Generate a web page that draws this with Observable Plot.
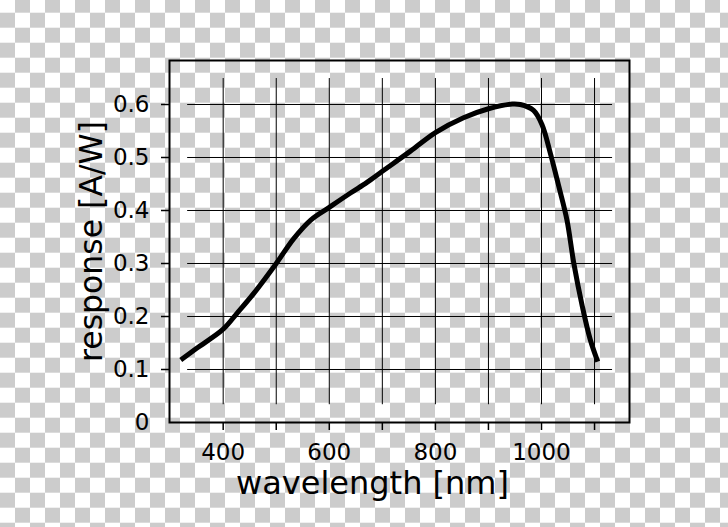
<!DOCTYPE html>
<html><head><meta charset="utf-8">
<script src="https://cdn.jsdelivr.net/npm/d3@7"></script>
<script src="https://cdn.jsdelivr.net/npm/@observablehq/plot@0.6"></script>
<style>
html,body{margin:0;padding:0;width:728px;height:527px;overflow:hidden;}
body{background-color:#fff;background-image:conic-gradient(#cccccc 0 25%, #ffffff 0 50%, #cccccc 0 75%, #ffffff 0);background-size:30px 30px;background-position:0 -2.3px;}
</style></head><body><div id="chart"></div>
<script>
const wavelength = [320, 350, 400, 426, 458, 500, 533, 565, 600, 640, 671, 700, 753, 800, 853, 900, 945, 960, 985, 1001, 1017, 1033, 1048, 1061, 1077, 1092, 1106];
const response = [0.118, 0.140, 0.176, 0.206, 0.244, 0.300, 0.347, 0.382, 0.406, 0.433, 0.453, 0.474, 0.512, 0.547, 0.575, 0.592, 0.601, 0.600, 0.589, 0.562, 0.507, 0.444, 0.382, 0.300, 0.219, 0.156, 0.115];
const xTicks = [400, 500, 600, 700, 800, 900, 1000, 1100];
const xTickLabels = [400, 600, 800, 1000];
const yTicks = [0.1, 0.2, 0.3, 0.4, 0.5, 0.6];
const yTickLabels = [0, 0.1, 0.2, 0.3, 0.4, 0.5, 0.6];
const xLabel = "wavelength [nm]";
const yLabel = "response [A/W]";

const data = wavelength.map((w, i) => ({w, r: response[i]}));
const plot = Plot.plot({
  width: 728, height: 527,
  marginLeft: 169, marginRight: 99, marginTop: 60, marginBottom: 105,
  style: {background: "transparent", fontFamily: "DejaVu Sans", fontSize: "23px", color: "#000"},
  x: {domain: [298.8, 1165.9], label: null},
  y: {domain: [0, 0.683], label: null},
  marks: [
    Plot.ruleX(xTicks, {x: d => d, y1: 0.0335, y2: 0.649, stroke: "#000", strokeWidth: 1}),
    Plot.ruleY(yTicks, {y: d => d, x1: 333, x2: 1134, stroke: "#000", strokeWidth: 1}),
    Plot.line(data, {x: "w", y: "r", stroke: "#000", strokeWidth: 5, curve: "catmull-rom", strokeLinecap: "butt"}),
    Plot.frame({stroke: "#000", strokeWidth: 2}),
    Plot.axisX(xTicks, {tickSize: 8, tickFormat: () => "", strokeWidth: 1.5, label: null}),
    Plot.axisX(xTickLabels, {tickSize: 0, tickPadding: 21, fontSize: 23, tickFormat: d => String(d), label: null}),
    Plot.axisY(yTicks, {tickSize: 8, tickFormat: () => "", strokeWidth: 1.5, label: null}),
    Plot.axisY(yTickLabels, {tickSize: 0, tickPadding: 20, fontSize: 23, tickFormat: d => String(d), label: null}),
    Plot.text([xLabel], {frameAnchor: "bottom", dy: 71, dx: -27, lineAnchor: "bottom", textAnchor: "middle", fontSize: 32, text: d => d, fill: "#000"}),
    Plot.text([yLabel], {frameAnchor: "left", rotate: -90, dx: -68, lineAnchor: "bottom", textAnchor: "middle", fontSize: 31.5, text: d => d, fill: "#000"})
  ]
});
document.getElementById("chart").appendChild(plot);
</script>
</body></html>
